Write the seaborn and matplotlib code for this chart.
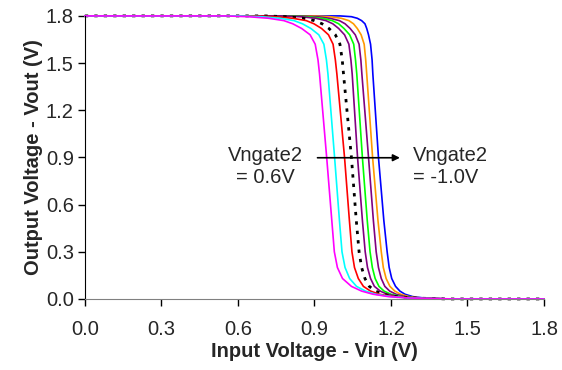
import numpy as np
import pandas as pd
import seaborn as sns
import matplotlib
matplotlib.use("Agg")
import matplotlib.pyplot as plt

# Vout levels shared by every curve, Vin for each curve
vout = [1.80, 1.80, 1.795, 1.785, 1.77, 1.75, 1.72, 1.68, 1.62, 1.52, 1.43,
        0.90, 0.50, 0.30, 0.20, 0.13, 0.08, 0.05, 0.03, 0.015, 0.006, 0.0, 0.0]

vin_p06 = [0.0, 0.55, 0.64, 0.72, 0.78, 0.815, 0.850, 0.883, 0.903, 0.914, 0.920,
           0.948, 0.968, 0.978, 0.990, 1.010, 1.045, 1.085, 1.13, 1.19, 1.27, 1.45, 1.8]
vin_p04 = [0.0, 0.60, 0.69, 0.765, 0.82, 0.853, 0.886, 0.917, 0.937, 0.947, 0.953,
           0.979, 0.998, 1.008, 1.020, 1.038, 1.065, 1.10, 1.14, 1.20, 1.27, 1.43, 1.8]
vin_p02 = [0.0, 0.66, 0.745, 0.815, 0.868, 0.898, 0.928, 0.955, 0.973, 0.982, 0.988,
           1.018, 1.037, 1.047, 1.057, 1.072, 1.092, 1.12, 1.155, 1.21, 1.28, 1.42, 1.8]
vin_00 = [0.0, 0.71, 0.79, 0.855, 0.90, 0.930, 0.957, 0.982, 1.000, 1.009, 1.014,
          1.045, 1.064, 1.075, 1.085, 1.098, 1.115, 1.14, 1.17, 1.22, 1.29, 1.42, 1.8]
vin_m02 = [0.0, 0.77, 0.845, 0.905, 0.945, 0.972, 0.995, 1.018, 1.035, 1.043, 1.048,
           1.069, 1.088, 1.099, 1.108, 1.120, 1.135, 1.158, 1.185, 1.23, 1.29, 1.42, 1.8]
vin_m04 = [0.0, 0.80, 0.875, 0.93, 0.97, 0.995, 1.016, 1.038, 1.054, 1.061, 1.066,
           1.088, 1.107, 1.118, 1.127, 1.138, 1.153, 1.173, 1.20, 1.24, 1.30, 1.42, 1.8]
vin_m06 = [0.0, 0.84, 0.91, 0.96, 0.998, 1.020, 1.040, 1.060, 1.075, 1.082, 1.086,
           1.112, 1.131, 1.142, 1.151, 1.162, 1.176, 1.195, 1.22, 1.255, 1.31, 1.42, 1.8]
vin_m08 = [0.0, 0.90, 0.96, 1.005, 1.035, 1.053, 1.068, 1.083, 1.095, 1.101, 1.105,
           1.128, 1.149, 1.162, 1.170, 1.181, 1.196, 1.215, 1.238, 1.27, 1.32, 1.42, 1.8]
vin_m10 = [0.0, 1.00, 1.045, 1.068, 1.085, 1.098, 1.105, 1.112, 1.120, 1.126, 1.129,
           1.151, 1.172, 1.185, 1.193, 1.203, 1.218, 1.235, 1.255, 1.285, 1.33, 1.42, 1.8]

# drawing order: -1.0V first, 0.6V last (on top)
curves = [
    (vin_m10, "#0000ff", "-"),
    (vin_m08, "#ff9900", "-"),
    (vin_m06, "#800080", "-"),
    (vin_m04, "#00ff00", "-"),
    (vin_m02, "#800080", "-"),
    (vin_00, "#000000", ":"),
    (vin_p02, "#ff0000", "-"),
    (vin_p04, "#00ffff", "-"),
    (vin_p06, "#ff00ff", "-"),
]

xticks = [0.0, 0.3, 0.6, 0.9, 1.2, 1.5, 1.8]
yticks = [0.0, 0.3, 0.6, 0.9, 1.2, 1.5, 1.8]

sns.set_style("ticks")
plt.rcParams['font.family'] = ['Liberation Sans', 'DejaVu Sans']

fig = plt.figure(figsize=(5.62, 3.70), dpi=100)
ax = fig.add_axes([0.151, 0.192, 0.817, 0.765])

for vin, col, ls in curves:
    if ls == ":":
        sns.lineplot(x=vin, y=vout, sort=False, color=col, linewidth=2.0,
                     linestyle=(0, (1.2, 2.2)), ax=ax, clip_on=False)
    else:
        sns.lineplot(x=vin, y=vout, sort=False, color=col, linewidth=1.2,
                     ax=ax, clip_on=False)

ax.set_xlim(0, 1.8)
ax.set_ylim(0, 1.8)
ax.set_xticks(xticks)
ax.set_yticks(yticks)
ax.set_xticklabels([f"{t:.1f}" for t in xticks])
ax.set_yticklabels([f"{t:.1f}" for t in yticks])
ax.tick_params(labelsize=14.5, length=5, width=1, color="black", pad=10)
ax.tick_params(axis="y", pad=3)

ax.set_xlabel("Input Voltage - Vin (V)", fontsize=14.5, fontweight="bold", labelpad=2)
ax.set_ylabel("Output Voltage - Vout (V)", fontsize=14.5, fontweight="bold", labelpad=2)

sns.despine(ax=ax)
ax.spines["bottom"].set_color("#808080")
ax.spines["left"].set_color("black")

ax.text(0.709, 0.84, "Vngate2\n= 0.6V", ha="center", va="center", fontsize=14.5,
        linespacing=1.2)
ax.text(1.285, 0.84, "Vngate2\n= -1.0V", ha="left", va="center", fontsize=14.5,
        linespacing=1.2)
ax.annotate("", xy=(1.235, 0.898), xytext=(0.912, 0.898),
            arrowprops=dict(arrowstyle="-|>", color="black", lw=1.2,
                            mutation_scale=10, shrinkA=0, shrinkB=0))

fig.savefig("out.png", dpi=100)
